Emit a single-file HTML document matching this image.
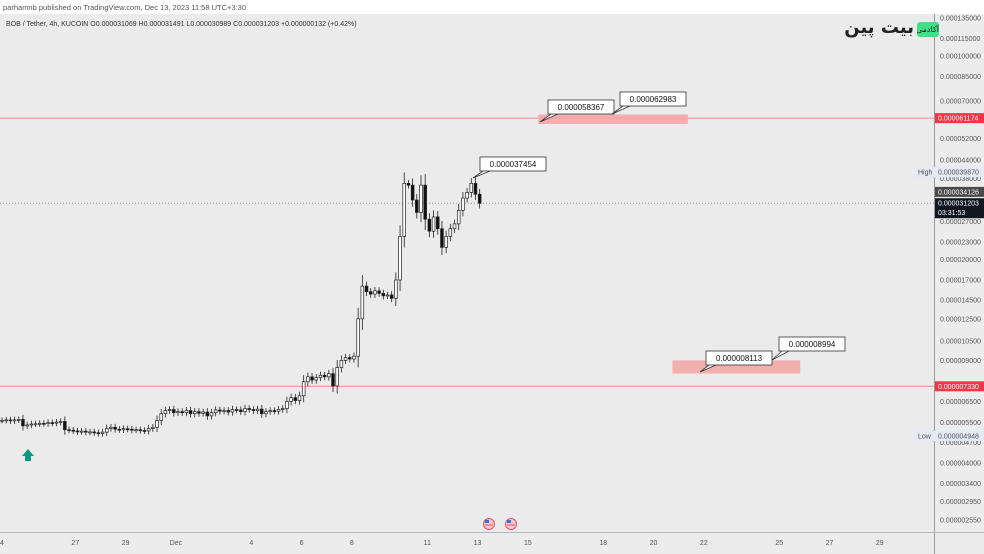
<!DOCTYPE html>
<html><head><meta charset="utf-8">
<style>
body{margin:0;width:984px;height:554px;overflow:hidden;background:#fff;font-family:"Liberation Sans",sans-serif}
#root{position:relative;width:984px;height:554px}
.logo{position:absolute;top:20px;font-family:"DejaVu Sans",sans-serif;direction:rtl;white-space:nowrap}
</style></head>
<body><div id="root">
<svg id="svg" width="984" height="554" xmlns="http://www.w3.org/2000/svg" style="position:absolute;left:0;top:0">
<rect x="0" y="0" width="984" height="14" fill="#ffffff"/>
<text x="3" y="10" font-size="7.5" fill="#555">parhamnb published on TradingView.com, Dec 13, 2023 11:58 UTC+3:30</text>
<rect x="0" y="14" width="934" height="518" fill="#ebebeb"/>
<rect x="934" y="14" width="50" height="518" fill="#ececec"/>
<rect x="0" y="532" width="984" height="22" fill="#ececec"/>
<line x1="934.5" y1="14" x2="934.5" y2="554" stroke="#9a9a9a"/>
<line x1="0" y1="532.5" x2="984" y2="532.5" stroke="#b5b5b5"/>
<text x="6" y="26" font-size="7" fill="#333">BOB / Tether, 4h, KUCOIN  O0.000031069  H0.000031491  L0.000030989  C0.000031203  +0.000000132 (+0.42%)</text>
<g id="marks"></g>
</svg>
<div class="logo" style="right:70px;top:17px;font-size:18px;font-weight:bold;color:#222">بیت پین</div>
<div class="logo" style="left:917px;top:22px;width:22px;height:15px;background:#3ee08a;border-radius:3px;font-size:8px;line-height:15px;color:#222;overflow:hidden;text-align:center">آکادمی</div>
</div>
<script>
const closes=[5.60,5.62,5.58,5.62,5.64,5.36,5.40,5.44,5.45,5.47,5.46,5.50,5.48,5.52,
5.55,5.20,
5.18,5.15,5.12,5.14,5.10,5.11,5.08,5.05,5.10,
5.25,5.30,5.22,5.20,5.24,5.22,5.18,5.20,5.17,5.15,5.25,5.30,
5.60,5.90,6.05,6.10,5.95,6.00,
5.95,6.05,5.90,6.00,5.92,5.98,5.80,5.95,6.08,6.02,6.05,5.98,6.10,6.08,6.00,
6.15,6.10,6.05,6.12,5.90,6.00,6.05,6.02,6.10,6.15,
6.50,6.70,6.55,6.80,
7.60,7.90,7.70,7.85,8.00,7.90,8.10,7.35,
8.50,9.00,9.20,9.10,9.30,
12.50,16.20,
15.50,15.20,15.60,15.30,15.00,15.10,14.70,
17.00,24.00,36.50,
36.00,32.00,29.00,36.00,27.50,25.00,28.00,25.50,
22.00,24.00,25.50,26.50,29.50,32.50,34.00,
36.50,33.50,31.20];
const priceTicks=[135,115,100,85,70,52,44,38,27,23,20,17,14.5,12.5,10.5,9,6.5,5.5,4.7,4,3.4,2.95,2.55];
const dateLabels=["4","27","29","Dec","4","6","8","11","13","15","18","20","22","25","27","29"];
const dateIndex=[0,17.5,29.5,41.5,59.5,71.5,83.5,101.5,113.5,125.5,143.5,155.5,167.5,185.5,197.5,209.5];
const levels=[61.174,7.33];
const currentPrice=31.203, highPrice=39.870, lowPrice=4.948, prevClose=34.126;
const zones=[[58.367,62.983,128,163.7],[8.113,8.994,160,190.5]];
const callouts=[[58.367,"0.000058367"],[62.983,"0.000062983"],[8.113,"0.000008113"],[8.994,"0.000008994"],[37.454,"0.000037454"]];

const NS="http://www.w3.org/2000/svg";
const g=document.getElementById('marks');
const Y=p=>56+(Math.log(100)-Math.log(p))*126.4;
const X=i=>2+i*4.19;
function el(t,a,parent){const e=document.createElementNS(NS,t);for(const k in a)e.setAttribute(k,a[k]);(parent||g).appendChild(e);return e;}
const fmt=p=>(p/1e6).toFixed(9);
priceTicks.forEach(p=>{const t=el('text',{x:940,y:Y(p)+2.5,'font-size':7,fill:'#555'});t.textContent=fmt(p);

});
dateLabels.forEach((d,i)=>{const t=el('text',{x:X(dateIndex[i]),y:545,'font-size':7,fill:'#555','text-anchor':'middle'});t.textContent=d;

});
levels.forEach(l=>{const y=Y(l);const ln=el('line',{x1:0,y1:y,x2:934,y2:y,stroke:'#f28b8b','stroke-width':1});


el('rect',{x:935,y:y-5,width:49,height:10,fill:'#f23645'});
const t=el('text',{x:938,y:y+2.5,'font-size':7,fill:'#fff'});t.textContent=fmt(l);

});
{const y=Y(currentPrice);const ln=el('line',{x1:0,y1:y,x2:934,y2:y,stroke:'#9a9a9a','stroke-dasharray':'1,2'});


el('rect',{x:935,y:y-5,width:49,height:20,fill:'#131722'});
let t=el('text',{x:938,y:y+2.5,'font-size':7,fill:'#fff'});t.textContent=fmt(currentPrice);


t=el('text',{x:938,y:y+12,'font-size':7,fill:'#fff'});t.textContent='03:31:53';


const yp=Y(prevClose);el('rect',{x:935,y:yp-5,width:49,height:10,fill:'#4a4a4a'});
t=el('text',{x:938,y:yp+2.5,'font-size':7,fill:'#fff'});t.textContent=fmt(prevClose);


[[highPrice,'High'],[lowPrice,'Low']].forEach(([p,n])=>{const yy=Y(p);el('rect',{x:914,y:yy-5,width:70,height:10,fill:'#e3eaf3'});
let a=el('text',{x:918,y:yy+2.5,'font-size':7,fill:'#555'});a.textContent=n;


a=el('text',{x:938,y:yy+2.5,'font-size':7,fill:'#555'});a.textContent=fmt(p);

});}
zones.forEach(z=>{const r=el('rect',{x:X(z[2]),y:Y(z[1]),width:X(z[3])-X(z[2]),height:Y(z[0])-Y(z[1]),fill:'#f5a3a3',opacity:0.85});

});
closes.forEach((c,i)=>{const o=i?closes[i-1]:c;const x=X(i);const top=Y(Math.max(o,c)),bot=Y(Math.min(o,c));
const w=el('line',{x1:x,y1:top-3-Math.min(8,(bot-top)*0.25),x2:x,y2:bot+3+Math.min(8,(bot-top)*0.25),stroke:'#222','stroke-width':0.8});


const b=el('rect',{x:x-1.4,y:top,width:2.8,height:Math.max(1,bot-top),fill:c>=o?'#ffffff':'#111',stroke:'#222','stroke-width':0.7});

});
const cpos=[[548,100,540,122],[620,92,612,114],[706,351,700,372],[779,337,772,360],[480,157,473,178]];
callouts.forEach((c,i)=>{const [bx,by,px,py]=cpos[i];el('path',{d:`M${bx+3},${by+14} L${px},${py} L${bx+10},${by+14}`,fill:'#fff',stroke:'#333','stroke-width':0.8});
const r=el('rect',{x:bx,y:by,width:66,height:14,fill:'#fff',stroke:'#333','stroke-width':0.8});


const t=el('text',{x:bx+33,y:by+10,'font-size':8,fill:'#111','text-anchor':'middle'});t.textContent=c[1];

});
{const a=el('path',{d:'M28,449 L34,456 L31,456 L31,461 L25,461 L25,456 L22,456 Z',fill:'#089981'});

}
[489,511].forEach(fx=>{const f=el('circle',{cx:fx,cy:524,r:5.5,fill:'#f8c8d0',stroke:'#e05565','stroke-width':1});


el('rect',{x:fx-4,y:520,width:4,height:3,fill:'#3b6fd9'});
el('line',{x1:fx-4,y1:525,x2:fx+4,y2:525,stroke:'#e05565','stroke-width':1});});
</script>
</body></html>
